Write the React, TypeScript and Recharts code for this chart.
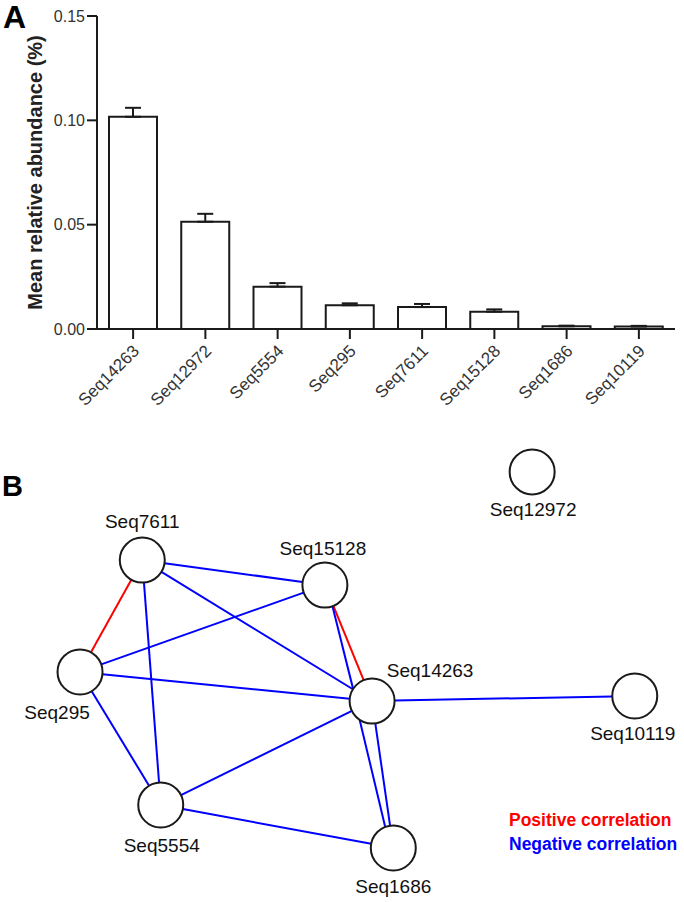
import { Bar, BarChart, ErrorBar, Label, ReferenceLine, Scatter, ScatterChart, XAxis, YAxis } from "recharts"

// panel A: mean relative abundance per sequence
const sequences = ["Seq14263", "Seq12972", "Seq5554", "Seq295", "Seq7611", "Seq15128", "Seq1686", "Seq10119"]
const meanAbundance = [0.1017, 0.0514, 0.0203, 0.0114, 0.0105, 0.0083, 0.0013, 0.0012]
const semAbundance = [0.0043, 0.0038, 0.0017, 0.0009, 0.0015, 0.0011, 0.0003, 0.0003]
const abundanceTicks = [0, 0.05, 0.1, 0.15]

// panel B: network layout (fractions of the panel) and correlation edges
const nodeNames = ["Seq12972", "Seq7611", "Seq15128", "Seq295", "Seq14263", "Seq10119", "Seq5554", "Seq1686"]
const nodeX = [0.778, 0.208, 0.475, 0.117, 0.544, 0.928, 0.235, 0.575]
const nodeY = [0.069, 0.26, 0.314, 0.502, 0.565, 0.554, 0.79, 0.883]

const edgeSource = ["Seq7611", "Seq7611", "Seq7611", "Seq7611", "Seq295", "Seq295", "Seq295", "Seq15128", "Seq15128", "Seq14263", "Seq5554", "Seq14263", "Seq14263", "Seq5554"]
const edgeTarget = ["Seq295", "Seq15128", "Seq14263", "Seq5554", "Seq15128", "Seq14263", "Seq5554", "Seq14263", "Seq14263", "Seq10119", "Seq14263", "Seq1686", "Seq1686", "Seq1686"]
const edgeSign = [1, -1, -1, -1, -1, -1, -1, 1, -1, -1, -1, -1, -1, -1]

const FONT = '"Liberation Sans", Arial, sans-serif'
const INK = "#1a1a1a"
const NODE_R = 22.5
const POS = "#ff0000"
const NEG = "#0000ff"

// where each node's name sits: [dx to text centre, dy to baseline]
const labelOffset: Record<string, [number, number]> = {
  Seq12972: [1, 44],
  Seq7611: [0, -32],
  Seq15128: [-2, -30],
  Seq295: [-23, 47],
  Seq14263: [58, -24],
  Seq10119: [-2, 44],
  Seq5554: [1, 47],
  Seq1686: [0, 45],
}

// second edge between the same pair is drawn fanned out (px at source, px at target)
const parallelOffset: Record<string, [number, number]> = {
  "Seq15128>Seq14263": [-1, -13],
  "Seq14263>Seq1686": [-15, -5],
}

const barData = sequences.map((name, i) => ({ name, mean: meanAbundance[i], err: [0, semAbundance[i]] }))
const nodeData = nodeNames.map((name, i) => ({ name, x: nodeX[i], y: nodeY[i] }))
const nodeIndex = (n: string) => nodeNames.indexOf(n)

const seen = new Set<string>()
const edges = edgeSource.map((s, i) => {
  const key = `${s}>${edgeTarget[i]}`
  const offsets: [number, number] = seen.has(key) ? parallelOffset[key] ?? [0, 0] : [0, 0]
  seen.add(key)
  return { s: nodeIndex(s), t: nodeIndex(edgeTarget[i]), color: edgeSign[i] > 0 ? POS : NEG, offsets }
})

const SeqTick = (props: any) => {
  const { x, y, payload } = props
  return (
    <g transform={`translate(${x},${y})`}>
      <text
        x={7}
        y={11}
        transform="rotate(-45, 7, 11)"
        textAnchor="end"
        fontSize={17}
        fontFamily={FONT}
        fill="#333"
      >
        {payload.value}
      </text>
    </g>
  )
}

const edgeShape = (color: string, o1: number, o2: number) => (props: any) => {
  const { x1, y1, x2, y2 } = props
  const len = Math.hypot(x2 - x1, y2 - y1)
  const ux = (x2 - x1) / len
  const uy = (y2 - y1) / len
  const px = uy
  const py = -ux
  const t1 = Math.sqrt(NODE_R * NODE_R - o1 * o1)
  const t2 = Math.sqrt(NODE_R * NODE_R - o2 * o2)
  return (
    <line
      x1={x1 + px * o1 + ux * t1}
      y1={y1 + py * o1 + uy * t1}
      x2={x2 + px * o2 - ux * t2}
      y2={y2 + py * o2 - uy * t2}
      stroke={color}
      strokeWidth={2}
    />
  )
}

const NodeShape = (props: any) => {
  const { cx, cy, payload } = props
  const [dx, dy] = labelOffset[payload.name] ?? [0, 44]
  return (
    <g>
      <circle cx={cx} cy={cy} r={NODE_R} fill="#fff" stroke={INK} strokeWidth={2} />
      <text x={cx + dx} y={cy + dy} textAnchor="middle" fontSize={19} fontFamily={FONT} fill="#111">
        {payload.name}
      </text>
    </g>
  )
}

export default function App() {
  return (
    <div style={{ position: "absolute", left: 0, top: 0, width: 684, height: 902, background: "#fff", fontFamily: FONT }}>
      <div style={{ position: "absolute", left: 3, top: 1, fontSize: 32, fontWeight: 700, lineHeight: 1, color: "#000" }}>A</div>
      <div style={{ position: "absolute", left: 0, top: 0 }}>
        <BarChart width={684} height={440} data={barData} margin={{ top: 16, right: 9, bottom: 0, left: 0 }}>
          <XAxis
            dataKey="name"
            interval={0}
            height={111}
            tickSize={10}
            tickMargin={2}
            axisLine={{ stroke: INK, strokeWidth: 2 }}
            tickLine={{ stroke: INK, strokeWidth: 2 }}
            tick={<SeqTick />}
          />
          <YAxis
            width={97}
            domain={[0, 0.15]}
            ticks={abundanceTicks}
            tickFormatter={(v: number) => v.toFixed(2)}
            tickSize={10}
            tickMargin={2}
            axisLine={{ stroke: INK, strokeWidth: 2 }}
            tickLine={{ stroke: INK, strokeWidth: 2 }}
            tick={{ fill: "#333", fontSize: 16, fontFamily: FONT }}
          >
            <Label
              content={(p: any) => {
                const vb = p.viewBox
                const cx = vb.x + 35
                const cy = vb.y + vb.height / 2
                return (
                  <text
                    x={cx}
                    y={cy}
                    transform={`rotate(-90, ${cx}, ${cy})`}
                    textAnchor="middle"
                    dominantBaseline="central"
                    fontSize={20}
                    fontWeight={700}
                    fontFamily={FONT}
                    fill="#222"
                  >
                    Mean relative abundance (%)
                  </text>
                )
              }}
            />
          </YAxis>
          <Bar dataKey="mean" fill="#fff" stroke={INK} strokeWidth={2} barSize={48} isAnimationActive={false}>
            <ErrorBar dataKey="err" width={8} stroke={INK} strokeWidth={2} direction="y" />
          </Bar>
        </BarChart>
      </div>

      <div style={{ position: "absolute", left: 2, top: 472, fontSize: 29, fontWeight: 700, lineHeight: 1, color: "#000" }}>B</div>
      <div style={{ position: "absolute", left: 0, top: 440 }}>
        <ScatterChart width={684} height={462} margin={{ top: 0, right: 0, bottom: 0, left: 0 }}>
          <XAxis type="number" dataKey="x" domain={[0, 1]} hide />
          <YAxis type="number" dataKey="y" domain={[0, 1]} reversed hide />
          {edges.map((e, i) => (
            <ReferenceLine
              key={i}
              segment={[
                { x: nodeX[e.s], y: nodeY[e.s] },
                { x: nodeX[e.t], y: nodeY[e.t] },
              ]}
              stroke={e.color}
              ifOverflow="visible"
              shape={edgeShape(e.color, e.offsets[0], e.offsets[1])}
            />
          ))}
          <Scatter data={nodeData} shape={<NodeShape />} isAnimationActive={false} />
        </ScatterChart>
      </div>

      <div style={{ position: "absolute", left: 509, top: 808, fontSize: 17.5, fontWeight: 700, lineHeight: "24px" }}>
        <div style={{ color: POS }}>Positive correlation</div>
        <div style={{ color: NEG }}>Negative correlation</div>
      </div>
    </div>
  )
}
